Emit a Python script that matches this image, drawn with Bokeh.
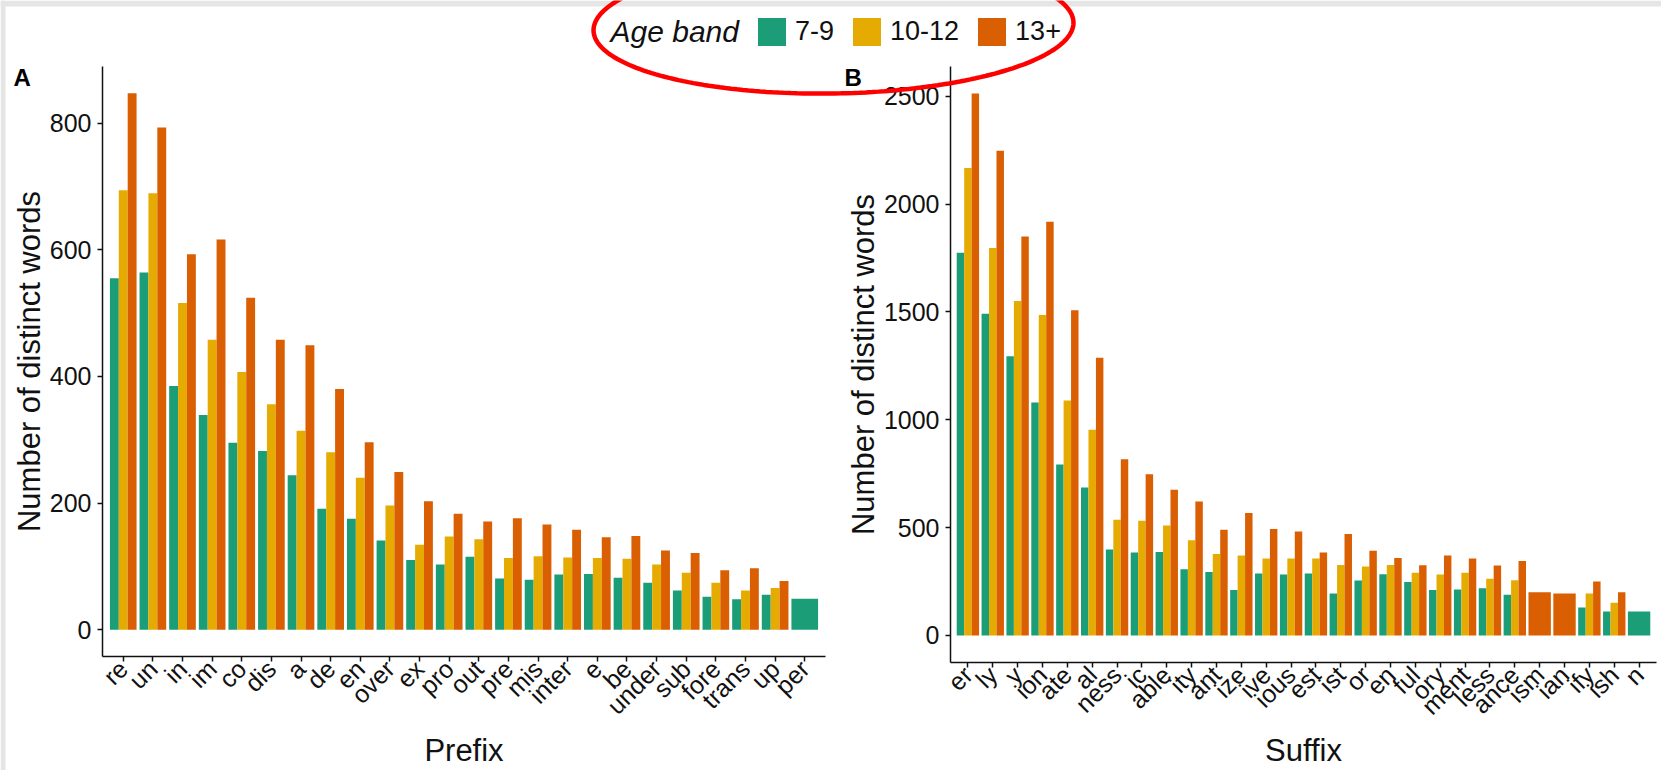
import math
from bokeh.plotting import figure
from bokeh.models import (FactorRange, Range1d, FixedTicker, Legend, LegendItem,
                          Label, PolyAnnotation, ColumnDataSource, GridBox)
from bokeh.layouts import column
from bokeh.embed import file_html
from bokeh.resources import INLINE

# ---------------- data ----------------
age_bands = ["7-9", "10-12", "13+"]
band_colors = ["#1B9E77", "#E6AB02", "#D95F02"]

prefixes = ["re", "un", "in", "im", "co", "dis", "a", "de", "en", "over", "ex", "pro",
            "out", "pre", "mis", "inter", "e", "be", "under", "sub", "fore", "trans", "up", "per"]
prefix_7_9 = [555, 564, 385, 339, 295, 282, 244, 191, 175, 141, 110, 103,
              115, 81, 79, 87, 88, 82, 74, 62, 52, 48, 55, 49]
prefix_10_12 = [694, 689, 516, 458, 407, 356, 314, 280, 240, 196, 134, 147,
                143, 113, 116, 114, 113, 112, 103, 90, 74, 62, 66, None]
prefix_13 = [847, 793, 593, 616, 524, 458, 449, 380, 296, 249, 203, 183,
             171, 176, 166, 158, 146, 148, 125, 121, 94, 97, 77, None]

suffixes = ["er", "ly", "y", "ion", "ate", "al", "ness", "ic", "able", "ity", "ant", "ize",
            "ive", "ious", "est", "ist", "or", "en", "ful", "ory", "ment", "less", "ance",
            "ism", "ian", "ify", "ish", "n"]
suffix_7_9 = [1774, 1491, 1294, 1080, 792, 686, 398, 384, 387, 307, 294, 210,
              287, 282, 287, 194, 254, 284, 248, 210, 213, 219, 188,
              None, None, 129, 111, 111]
suffix_10_12 = [2167, 1796, 1550, 1485, 1089, 954, 536, 532, 510, 441, 378, 370,
                357, 357, 357, 327, 320, 327, 291, 282, 290, 263, 256,
                None, None, 194, 151, None]
suffix_13 = [2512, 2247, 1850, 1918, 1507, 1287, 817, 747, 675, 621, 490, 567,
             493, 482, 384, 470, 393, 359, 325, 371, 357, 324, 345,
             200, 194, 250, 200, None]

prefix_yticks = [0, 200, 400, 600, 800]
suffix_yticks = [0, 500, 1000, 1500, 2000, 2500]

FONT = "Liberation Sans"
W, H = 1661, 770
WA = 842                 # width of panel A figure
WB = W - WA              # width of panel B figure

# hand-drawn highlight ellipse (pixels on the page)
ELL_CX, ELL_CY, ELL_A, ELL_B, ELL_ROT = 833, 26, 240, 67, -0.017


def panel(cats, series, yticks, xlabel, width, borders):
    vmax = max(v for s in series for v in s if v is not None)
    p = figure(x_range=FactorRange(factors=cats, range_padding=0.2,
                                   range_padding_units="absolute"),
               y_range=Range1d(-0.05 * vmax, 1.05 * vmax),
               width=width, height=H, output_backend="svg",
               toolbar_location=None,
               min_border_left=borders[0], min_border_right=borders[1],
               min_border_top=borders[2], min_border_bottom=borders[3])
    # ggplot-style dodge: present groups share 0.9 of each slot
    per_band = {k: dict(x=[], top=[], w=[]) for k in range(len(series))}
    for i, c in enumerate(cats):
        present = [(k, s[i]) for k, s in enumerate(series) if s[i] is not None]
        w = 0.9 / len(present)
        for j, (k, v) in enumerate(present):
            per_band[k]["x"].append(i + 0.05 + w * (j + 0.5))
            per_band[k]["top"].append(v)
            per_band[k]["w"].append(w)
    for k in range(len(series)):
        p.vbar(x="x", top="top", width="w", bottom=0,
               source=ColumnDataSource(per_band[k]),
               fill_color=band_colors[k], line_color=None)

    p.grid.visible = False
    p.outline_line_color = None
    for ax in (p.xaxis[0], p.yaxis[0]):
        ax.axis_line_color = "#111111"
        ax.axis_line_width = 1.5
        ax.major_tick_line_color = "#111111"
        ax.major_tick_line_width = 1.5
        ax.major_tick_in = 0
        ax.major_tick_out = 5
        ax.minor_tick_line_color = None
        ax.major_label_text_font = FONT
        ax.major_label_text_font_size = "25px"
        ax.major_label_text_color = "#111111"
        ax.axis_label_text_font = FONT
        ax.axis_label_text_font_size = "31px"
        ax.axis_label_text_font_style = "normal"
        ax.axis_label_text_color = "#111111"

    p.yaxis[0].ticker = FixedTicker(ticks=yticks)
    p.yaxis[0].axis_label = "Number of distinct words"
    p.yaxis[0].major_label_standoff = 6
    p.yaxis[0].axis_label_standoff = 0

    p.xaxis[0].axis_label = xlabel
    p.xaxis[0].major_label_orientation = math.pi / 4
    p.xaxis[0].major_label_standoff = 3
    p.xaxis[0].axis_label_standoff = 0
    return p


pA = panel(prefixes, [prefix_7_9, prefix_10_12, prefix_13], prefix_yticks, "Prefix",
           WA, (102, 17, 66, 114))
pB = panel(suffixes, [suffix_7_9, suffix_10_12, suffix_13], suffix_yticks, "Suffix",
           WB, (106, 5, 66, 108))

# ---------------- transparent overlay: legend, panel letters, highlight ----------------
ov = figure(width=W, height=H, x_range=Range1d(0, W), y_range=Range1d(H, 0),
            output_backend="svg", toolbar_location=None,
            x_axis_type=None, y_axis_type=None,
            min_border_left=0, min_border_right=0, min_border_top=0, min_border_bottom=0)
ov.grid.visible = False
ov.outline_line_color = None
ov.background_fill_color = None
ov.background_fill_alpha = 0
ov.border_fill_color = None
ov.border_fill_alpha = 0

# screenshot frame (light grey strips at top and left)
ov.add_layout(PolyAnnotation(xs=[0, W, W, 0], ys=[0, 0, 6, 6], xs_units="canvas",
                             ys_units="canvas", fill_color="#e5e5e5", fill_alpha=1,
                             line_color=None, level="underlay"))
ov.add_layout(PolyAnnotation(xs=[0, 5, 5, 0], ys=[0, 0, H, H], xs_units="canvas",
                             ys_units="canvas", fill_color="#e5e5e5", fill_alpha=1,
                             line_color=None, level="underlay"))

# legend keys: zero-height proxy bars that only carry the band colours
items = []
for band, col in zip(age_bands, band_colors):
    r = ov.vbar(x=[0], top=[0], bottom=[0], width=0.5, fill_color=col, line_color=None)
    items.append(LegendItem(label=band, renderers=[r]))
legend = Legend(items=items, orientation="horizontal", location=(754, H - 48.5),
                label_text_font=FONT, label_text_font_size="27px",
                label_text_color="#111111",
                glyph_width=35, glyph_height=35, label_standoff=6, spacing=15,
                padding=0, margin=0, border_line_color=None,
                background_fill_alpha=0)
ov.add_layout(legend, "center")
ov.add_layout(Label(x=610, y=30.5, x_units="canvas", y_units="canvas", text="Age band",
                    text_font=FONT, text_font_size="30px", text_font_style="italic",
                    text_color="#111111", text_baseline="alphabetic", text_align="left"))
for letter, lx in (("A", 13), ("B", 844)):
    ov.add_layout(Label(x=lx, y=77, x_units="canvas", y_units="canvas", text=letter,
                        text_font=FONT, text_font_size="24px", text_font_style="bold",
                        text_color="black", text_baseline="alphabetic", text_align="left"))

n = 240
ell_x, ell_y = [], []
for k in range(n):
    t = 2 * math.pi * k / n
    ex, ey = ELL_A * math.cos(t), ELL_B * math.sin(t)
    ell_x.append(ELL_CX + ex * math.cos(ELL_ROT) - ey * math.sin(ELL_ROT))
    ell_y.append(ELL_CY + ex * math.sin(ELL_ROT) + ey * math.cos(ELL_ROT))
ov.add_layout(PolyAnnotation(xs=ell_x, ys=ell_y, xs_units="canvas", ys_units="canvas",
                             fill_color=None, fill_alpha=0, line_color="#ff0000",
                             line_alpha=1, line_width=4.5, level="overlay"))

layout = GridBox(children=[(column(pA), 0, 0), (column(pB), 0, 1),
                           (column(ov), 0, 0, 1, 2)], spacing=0)

with open("out.html", "w") as f:
    f.write(file_html(layout, INLINE))
